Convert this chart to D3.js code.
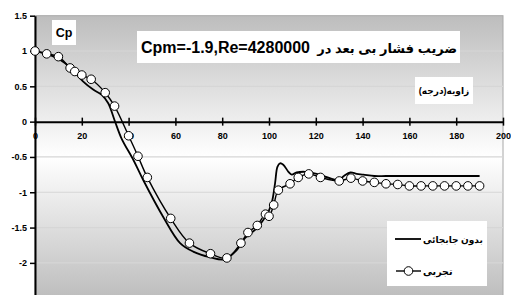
<!DOCTYPE html>
<html>
<head>
<meta charset="utf-8">
<script src="https://cdn.jsdelivr.net/npm/d3@7"></script>
<style>
  body { margin: 0; background: #fff; }
  svg { display: block; }
  text { font-family: "Liberation Sans", Arial, "DejaVu Sans", sans-serif; font-weight: bold; fill: #000; }
</style>
</head>
<body>
<div id="chart"></div>
<script>
// experimental points (angle in degrees, Cp)
const expAngle = [0, 5, 10, 15, 17, 20, 24, 30, 34, 40, 44, 48, 58, 66, 75, 82, 88, 91, 95, 98.5, 100, 102, 104,
  109, 112.5, 117, 122, 130, 135, 140, 145, 150, 155, 160, 165, 170, 175, 180, 185, 190];
const expCp = [1.0, 0.96, 0.92, 0.76, 0.71, 0.66, 0.60, 0.41, 0.22, -0.20, -0.49, -0.79, -1.37, -1.72, -1.87, -1.93,
  -1.72, -1.57, -1.47, -1.31, -1.34, -1.18, -0.97, -0.88, -0.79, -0.74, -0.79, -0.84, -0.80, -0.84, -0.86, -0.88,
  -0.89, -0.91, -0.91, -0.91, -0.91, -0.91, -0.91, -0.91];

// computed curve without displacement
const calcAngle = [0, 6, 11, 15, 20.5, 25, 28.5, 31.3, 34, 37, 42, 46.3, 54.8, 62, 67.6, 74.8, 81, 86.2, 89.7, 94.7,
  99, 101.1, 102.6, 103.6, 104.7, 106.1, 108.3, 109.7, 111.8, 115.4, 120.4, 126, 129.6, 132, 134.8, 137.5, 140.3,
  145, 150, 160, 170, 180, 190];
const calcCp = [1.0, 0.95, 0.87, 0.77, 0.57, 0.45, 0.38, 0.26, 0.02, -0.24, -0.54, -0.83, -1.35, -1.72, -1.84, -1.92,
  -1.95, -1.82, -1.65, -1.51, -1.32, -1.16, -0.87, -0.64, -0.59, -0.61, -0.71, -0.75, -0.72, -0.71, -0.74, -0.80,
  -0.83, -0.77, -0.72, -0.74, -0.75, -0.77, -0.77, -0.77, -0.77, -0.77, -0.77];

const xTicks = [0, 20, 40, 60, 80, 100, 120, 140, 160, 180, 200];
const yTicks = [1.5, 1, 0.5, 0, -0.5, -1, -1.5, -2, -2.5];

const titleLatin = "Cpm=-1.9,Re=4280000";
const titlePersian = "ضریب فشار بی بعد در";
const yTitle = "Cp";
const xTitle = "زاویه(درجه)";
const seriesNames = ["بدون جابجائی", "تجربی"];

const width = 511, height = 295;
const svg = d3.select("#chart").append("svg")
  .attr("width", width)
  .attr("height", height);

const x = d3.scaleLinear().domain([0, 200]).range([35, 503]);
const y = d3.scaleLinear().domain([-2.5, 1.5]).range([298.2, 15.7]);

// plot area background: grey at edges, white in the middle
const grad = svg.append("defs").append("linearGradient")
  .attr("id", "bg").attr("x1", 0).attr("y1", 0).attr("x2", 0).attr("y2", 1);
grad.append("stop").attr("offset", "0%").attr("stop-color", "#bdbdbd");
grad.append("stop").attr("offset", "50%").attr("stop-color", "#ffffff");
grad.append("stop").attr("offset", "100%").attr("stop-color", "#bdbdbd");

svg.append("rect")
  .attr("x", x(0)).attr("y", y(1.5))
  .attr("width", x(200) - x(0)).attr("height", y(-2.5) - y(1.5))
  .attr("fill", "url(#bg)")
  .attr("stroke", "#a8a8a8")
  .attr("stroke-width", 1);

// gridlines
svg.append("g")
  .selectAll("line")
  .data(yTicks.filter(d => d !== 0 && d !== 1.5))
  .join("line")
  .attr("x1", x(0)).attr("x2", x(200))
  .attr("y1", d => y(d)).attr("y2", d => y(d))
  .attr("stroke", "#d6d6d6")
  .attr("stroke-width", 1.2);

// y axis
const yAxis = svg.append("g")
  .attr("transform", `translate(${x(0)},0)`)
  .call(d3.axisLeft(y).tickValues(yTicks).tickFormat(d => String(d)).tickSize(5).tickSizeOuter(0).tickPadding(3));
yAxis.select(".domain").attr("stroke", "#000").attr("stroke-width", 2);
yAxis.selectAll(".tick line").attr("stroke", "#000").attr("stroke-width", 1.5);
yAxis.selectAll(".tick text").style("font-size", "9px").style("font-family", null);

// x axis at Cp = 0
const xAxis = svg.append("g")
  .attr("transform", `translate(0,${y(0)})`)
  .call(d3.axisBottom(x).tickValues(xTicks).tickSize(4).tickSizeOuter(0).tickPadding(7));
xAxis.select(".domain").attr("stroke", "#000").attr("stroke-width", 2);
xAxis.selectAll(".tick line").attr("y1", -4).attr("y2", 4).attr("stroke", "#000").attr("stroke-width", 1.5);
xAxis.selectAll(".tick text").style("font-size", "9px").style("font-family", null);
svg.selectAll(".tick text").attr("fill", "#000");

// series
const calcData = calcAngle.map((a, i) => ({ a, cp: calcCp[i] }));
const expData = expAngle.map((a, i) => ({ a, cp: expCp[i] }));

const line = d3.line()
  .x(d => x(d.a))
  .y(d => y(d.cp))
  .curve(d3.curveCatmullRom.alpha(0.5));

svg.append("path")
  .datum(calcData)
  .attr("fill", "none")
  .attr("stroke", "#000")
  .attr("stroke-width", 1.8)
  .attr("d", line);

svg.append("path")
  .datum(expData)
  .attr("fill", "none")
  .attr("stroke", "#000")
  .attr("stroke-width", 1.4)
  .attr("d", line);

svg.append("g")
  .selectAll("circle")
  .data(expData)
  .join("circle")
  .attr("cx", d => x(d.a))
  .attr("cy", d => y(d.cp))
  .attr("r", 4.3)
  .attr("fill", "#fff")
  .attr("stroke", "#000")
  .attr("stroke-width", 1);

// text boxes
function box(x0, y0, w, h) {
  svg.append("rect").attr("x", x0).attr("y", y0).attr("width", w).attr("height", h).attr("fill", "#fff");
}

box(52, 20, 24, 25);
svg.append("text").attr("x", 64).attr("y", 37).attr("text-anchor", "middle")
  .style("font-size", "12.5px").text(yTitle);

box(137, 31, 323, 32);
svg.append("text").attr("x", 141).attr("y", 53)
  .style("font-size", "16px").text(titleLatin);
svg.append("text").attr("x", 457).attr("y", 52.5).attr("text-anchor", "end")
  .style("font-size", "13px").text(titlePersian);

box(415, 77, 58, 27);
svg.append("text").attr("x", 444).attr("y", 94).attr("text-anchor", "middle")
  .style("font-size", "9px").text(xTitle);

// legend
box(387, 221, 100, 65);
const lg = svg.append("g");
lg.append("line").attr("x1", 395).attr("x2", 421).attr("y1", 239).attr("y2", 239)
  .attr("stroke", "#000").attr("stroke-width", 1.8);
lg.append("text").attr("x", 423).attr("y", 242.5).style("font-size", "9px").text(seriesNames[0]);
lg.append("line").attr("x1", 396).attr("x2", 421).attr("y1", 271).attr("y2", 271)
  .attr("stroke", "#000").attr("stroke-width", 1.4);
lg.append("circle").attr("cx", 408.5).attr("cy", 271).attr("r", 4.3)
  .attr("fill", "#fff").attr("stroke", "#000").attr("stroke-width", 1);
lg.append("text").attr("x", 423).attr("y", 274.5).style("font-size", "9.5px").text(seriesNames[1]);
</script>
</body>
</html>
